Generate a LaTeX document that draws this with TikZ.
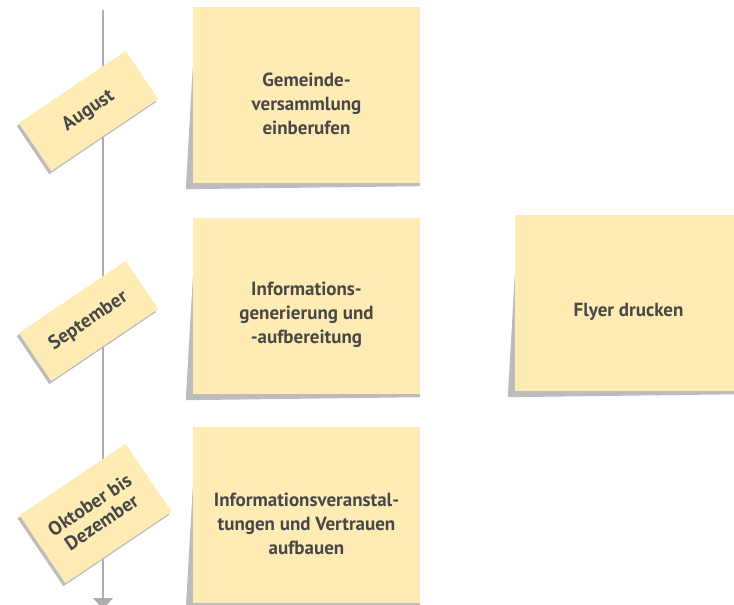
\documentclass[tikz,border=0pt]{standalone}
\usepackage{fontspec}
\setmainfont{PT Sans}
\usepackage{xcolor}
\usetikzlibrary{arrows.meta,positioning,calc,shadows}

\definecolor{noteyellow}{RGB}{254,236,180}
\definecolor{notetext}{RGB}{72,72,72}
\definecolor{lineGray}{RGB}{172,172,178}
\definecolor{shadowGray}{RGB}{188,188,188}

\begin{document}
\begin{tikzpicture}[x=1pt, y=-1pt, >=Triangle,
    note/.style={rectangle, fill=noteyellow, minimum width=227pt, minimum height=176pt},
    task/.style={align=center, text=notetext, font=\bfseries\fontsize{19}{24}\selectfont},
    month/.style={rectangle, fill=noteyellow, rotate=34, align=center, text=notetext,
        font=\bfseries\fontsize{19.5}{21}\selectfont, inner sep=1pt,
        drop shadow={shadow xshift=-2pt, shadow yshift=-3pt, fill=shadowGray, opacity=1}},
    curl/.style={fill=shadowGray},
    timeline/.style={draw=lineGray, line width=1.4pt, -{Triangle[width=20pt, length=11pt]}}]
    \useasboundingbox (0,0) rectangle (734,605);

    % Timeline
    \coordinate (start) at (103,10);
    \coordinate (end) at (103,609);
    \draw[timeline] (start) -- (end);

    % Sticky notes
    \node[note] (n1) at (306.5,95) {};
    \node[note] (n2) at (306.5,306) {};
    \node[note] (n3) at (306.5,515) {};
    \node[note] (n4) at (628.5,303) {};

    % Curled corners
    \foreach \n in {n1,n2,n3,n4} {
        \fill[curl] ($(\n.north west)+(0,60)$) -- ($(\n.south west)+(-7,6)$)
            -- ($(\n.south east)+(0,3)$) -- (\n.south east) -- (\n.south west) -- cycle;
    }

    % Tasks
    \node[task] (t1) at ([yshift=-9pt]n1.center) {Gemeinde-\\versammlung\\einberufen};
    \node[task] (t2) at ([yshift=-9pt]n2.center) {Informations-\\generierung und\\-aufbereitung};
    \node[task] (t3) at ([yshift=-9pt]n3.center) {Informationsveranstal-\\tungen und Vertrauen\\aufbauen};
    \node[task] (t4) at ([yshift=-9pt]n4.center) {Flyer drucken};

    % Months
    \node[month, minimum width=129pt, minimum height=58pt] (aug) at (88.5,111) {August};
    \node[month, minimum width=129pt, minimum height=58pt] (sep) at (88.5,321) {September};
    \node[month, minimum width=128pt, minimum height=82pt] (okt) at (95.5,513.5) {Oktober bis\\Dezember};
\end{tikzpicture}
\end{document}
